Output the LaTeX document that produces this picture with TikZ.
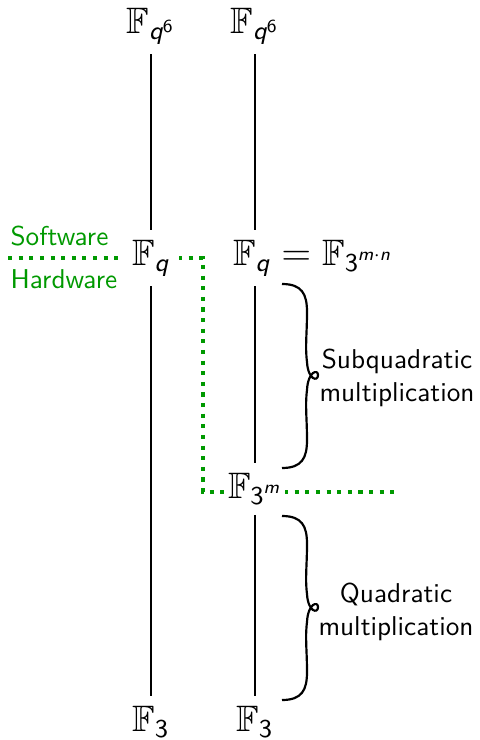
\documentclass[tikz,border=0pt]{standalone}
\usepackage{amsmath,amssymb}
\renewcommand{\familydefault}{\sfdefault}
\definecolor{swgreen}{rgb}{0,0.6,0}
\newcommand{\vq}{\text{\itshape q}}
\newcommand{\vm}{\text{\itshape m}}
\newcommand{\vn}{\text{\itshape n}}

\tikzset{
  curly/.pic={
    \draw[line width=0.8pt] (0,0) .. controls (20,0) and (25,10) .. (25,28)
      .. controls (25,50) and (23,62) .. (25,78)
      .. controls (26,96) and (36,98) .. (36,91)
      .. controls (36,85) and (26,87) .. (25,106)
      .. controls (23,122) and (25,134) .. (25,156)
      .. controls (25,174) and (20,184) .. (0,184);
  }
}

\begin{document}
\begin{tikzpicture}[x=0.367pt, y=-0.367pt,
    fld/.style={font=\fontsize{13.5}{16}\selectfont, fill=white, inner sep=3.5pt},
    tower/.style={line width=0.75pt}]
  \useasboundingbox (0,0) rectangle (479,740);
  \draw[swgreen, line width=1.5pt, dash pattern=on 1.5pt off 2.4pt]
    (8,258) -- (203,258) -- (203,492) -- (398,492);
  \node[text=swgreen, anchor=base west, inner sep=0pt] (sw) at (10,245) {Software};
  \node[text=swgreen, anchor=base west, inner sep=0pt] (hw) at (10,288) {Hardware};
  \node[fld, inner ysep=1pt] (t6L) at (151,26) {$\mathbb{F}_{\vq^{\text{6}}}$};
  \node[fld] (qL) at (151,258) {$\mathbb{F}_{\vq}$};
  \node[fld] (t3L) at (151,722) {$\mathbb{F}_{\text{3}}$};
  \node[fld, inner ysep=1pt] (t6R) at (255,26) {$\mathbb{F}_{\vq^{\text{6}}}$};
  \node[fld, anchor=west] (qR) at (223,258) {$\mathbb{F}_{\vq} = \mathbb{F}_{\text{3}^{\vm\cdot\vn}}$};
  \node[fld, inner xsep=1pt] (mR) at (255,489) {$\mathbb{F}_{\text{3}^{\vm}}$};
  \node[fld] (t3R) at (255,722) {$\mathbb{F}_{\text{3}}$};
  \draw[tower, shorten <=2.5pt] (t6L) -- (qL);
  \draw[tower] (qL) -- (t3L);
  \draw[tower, shorten <=2.5pt] (t6R) -- (t6R |- qR.north);
  \draw[tower] (qR.south -| t6R) -- (mR);
  \draw[tower] (mR) -- (t3R);
  \pic at (282,284) {curly};
  \node[align=center] (subq) at (397,378) {Subquadratic\\multiplication};
  \pic at (282,516) {curly};
  \node[align=center] (quad) at (396,612) {Quadratic\\multiplication};
\end{tikzpicture}
\end{document}
